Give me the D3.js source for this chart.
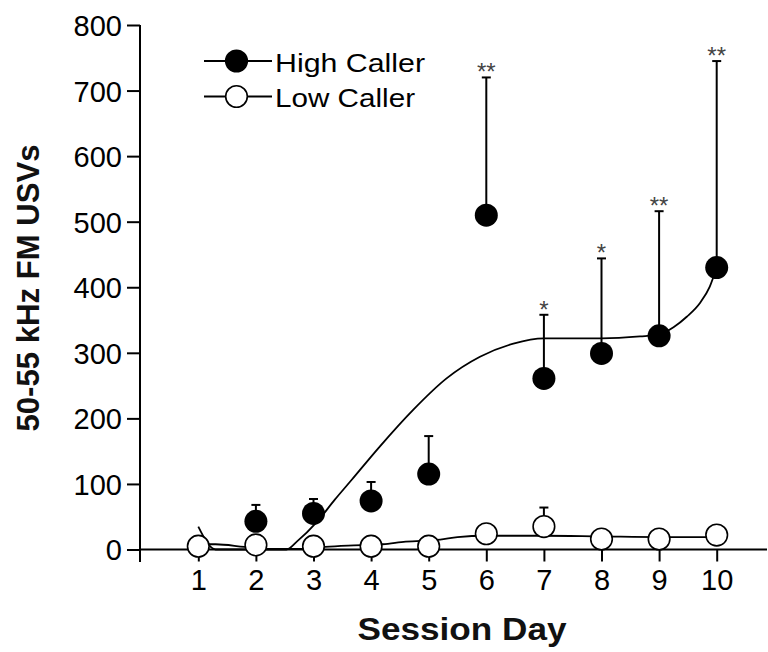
<!DOCTYPE html>
<html lang="en">
<head>
    <meta charset="UTF-8">
    <title>50-55 kHz FM USVs by Session Day</title>
    <script src="https://d3js.org/d3.v7.min.js"></script>
    <style>
        body { margin: 0; background: #fff; }
        svg { display: block; }
        text { font-family: "Liberation Sans", Arial, sans-serif; fill: #000; }
        .tick text { font-size: 29px; }
        .title { font-weight: bold; font-size: 31px; fill: #111; }
        .legend { font-size: 26px; }
        .star { font-size: 24px; fill: #444; }
    </style>
</head>
<body>
    <script>
        // Data
        const days = [1, 2, 3, 4, 5, 6, 7, 8, 9, 10];
        const highDays = [2, 3, 4, 5, 6, 7, 8, 9, 10];
        const highMean = [43, 55, 74, 115, 510, 261, 299, 326, 430];
        const highUpper = [68, 77, 103, 173, 720, 358, 444, 516, 745];
        const highStars = ["", "", "", "", "**", "*", "*", "**", "**"];
        const lowMean = [5, 7, 5, 5, 5, 24, 35, 16, 16, 22];
        const lowUpper = [null, null, null, null, null, null, 64, null, null, null];

        // fitted curves (sampled from the figure)
        const highFitX = [1, 1.3, 2.53, 2.71, 3.06, 3.37, 3.66, 4.15, 4.73, 5.31, 5.89, 6.47, 7, 8, 8.67, 9, 9.25, 9.48, 9.71, 9.88, 10];
        const highFitY = [35, 0, 0, 12, 42, 76, 106, 157, 213, 261, 294, 314, 322, 322, 325, 328, 339, 355, 376, 401, 430];
        const lowFitX = [1, 1.3, 1.8, 2.2, 2.8, 3.2, 3.6, 4.2, 4.6, 5.2, 5.5, 6, 7, 8, 9, 10];
        const lowFitY = [8, 8, 4, 1, 1, 4, 6, 8, 12, 15, 19, 21, 21, 20, 19, 19];

        const yTicks = [0, 100, 200, 300, 400, 500, 600, 700, 800];

        const width = 768, height = 652;
        const svg = d3.select("body").append("svg")
            .attr("width", width)
            .attr("height", height);

        const x = d3.scaleLinear().domain([0, 11]).range([140.7, 774.3]);
        const y = d3.scaleLinear().domain([0, 800]).range([549.5, 25]);
        const r = 11.5;

        // Y axis
        const yAxis = svg.append("g")
            .attr("transform", "translate(140,0)")
            .call(d3.axisLeft(y).tickValues(yTicks).tickSize(13).tickPadding(5));
        yAxis.select(".domain").remove();
        yAxis.selectAll(".tick line").attr("stroke", "#000").attr("stroke-width", 2);
        yAxis.selectAll(".tick text").attr("dy", "0.36em");
        svg.append("line")
            .attr("x1", 140).attr("x2", 140)
            .attr("y1", y(800)).attr("y2", 562)
            .attr("stroke", "#000").attr("stroke-width", 2);

        // X axis
        const xAxis = svg.append("g")
            .attr("transform", `translate(0,${y(0)})`)
            .call(d3.axisBottom(x).tickValues(days).tickSize(12).tickPadding(8));
        xAxis.select(".domain").remove();
        xAxis.selectAll(".tick line").attr("stroke", "#000").attr("stroke-width", 2);
        svg.append("line")
            .attr("x1", 140).attr("x2", 767)
            .attr("y1", y(0)).attr("y2", y(0))
            .attr("stroke", "#000").attr("stroke-width", 2);

        // Axis titles
        svg.append("text")
            .attr("class", "title")
            .attr("x", 462).attr("y", 639.5)
            .attr("text-anchor", "middle")
            .attr("textLength", 209)
            .attr("lengthAdjust", "spacingAndGlyphs")
            .text("Session Day");

        svg.append("text")
            .attr("class", "title")
            .attr("transform", "translate(39,288) rotate(-90)")
            .attr("text-anchor", "middle")
            .attr("textLength", 287)
            .attr("lengthAdjust", "spacingAndGlyphs")
            .text("50-55 kHz FM USVs");

        // Fitted curves
        const fitLine = d3.line()
            .x(d => x(d[0]))
            .y(d => y(d[1]))
            .curve(d3.curveMonotoneX);

        svg.append("path")
            .datum(d3.zip(lowFitX, lowFitY))
            .attr("d", fitLine)
            .attr("fill", "none")
            .attr("stroke", "#000")
            .attr("stroke-width", 1.8);

        svg.append("path")
            .datum(d3.zip(highFitX, highFitY))
            .attr("d", fitLine)
            .attr("fill", "none")
            .attr("stroke", "#000")
            .attr("stroke-width", 1.8);

        // Error bars (upper only)
        const highData = highDays.map((d, i) => ({ day: d, mean: highMean[i], upper: highUpper[i], star: highStars[i] }));
        const lowData = days.map((d, i) => ({ day: d, mean: lowMean[i], upper: lowUpper[i] }));

        function errorBars(data) {
            const g = svg.append("g");
            const withErr = data.filter(d => d.upper != null);
            g.selectAll(".stem").data(withErr).enter().append("line")
                .attr("x1", d => x(d.day)).attr("x2", d => x(d.day))
                .attr("y1", d => y(d.mean)).attr("y2", d => y(d.upper))
                .attr("stroke", "#000").attr("stroke-width", 2);
            g.selectAll(".cap").data(withErr).enter().append("line")
                .attr("x1", d => x(d.day) - 4.5).attr("x2", d => x(d.day) + 4.5)
                .attr("y1", d => y(d.upper)).attr("y2", d => y(d.upper))
                .attr("stroke", "#000").attr("stroke-width", 2);
        }
        errorBars(highData);
        errorBars(lowData);

        // Significance stars
        svg.selectAll(".star").data(highData.filter(d => d.star)).enter().append("text")
            .attr("class", "star")
            .attr("x", d => x(d.day))
            .attr("y", d => y(d.upper) + 3)
            .attr("text-anchor", "middle")
            .text(d => d.star);

        // Markers
        svg.selectAll(".high").data(highData).enter().append("circle")
            .attr("cx", d => x(d.day)).attr("cy", d => y(d.mean))
            .attr("r", r)
            .attr("fill", "#000");

        svg.selectAll(".low").data(lowData).enter().append("circle")
            .attr("cx", d => x(d.day)).attr("cy", d => y(d.mean))
            .attr("r", r - 0.7)
            .attr("fill", "#fff")
            .attr("stroke", "#000")
            .attr("stroke-width", 1.6);

        // Legend
        const legend = [
            { label: "High Caller", fill: "#000", cy: 61, base: 71.5, len: 150 },
            { label: "Low Caller", fill: "#fff", cy: 96.5, base: 107, len: 140 }
        ];
        const lg = svg.selectAll(".lg").data(legend).enter().append("g");
        lg.append("line")
            .attr("x1", 204).attr("x2", 272)
            .attr("y1", d => d.cy).attr("y2", d => d.cy)
            .attr("stroke", "#000").attr("stroke-width", 1.8);
        lg.append("circle")
            .attr("cx", 236.5).attr("cy", d => d.cy)
            .attr("r", r - 0.7)
            .attr("fill", d => d.fill)
            .attr("stroke", "#000").attr("stroke-width", 1.6);
        lg.append("text")
            .attr("class", "legend")
            .attr("x", 275).attr("y", d => d.base)
            .attr("textLength", d => d.len)
            .attr("lengthAdjust", "spacingAndGlyphs")
            .text(d => d.label);
    </script>
</body>
</html>
